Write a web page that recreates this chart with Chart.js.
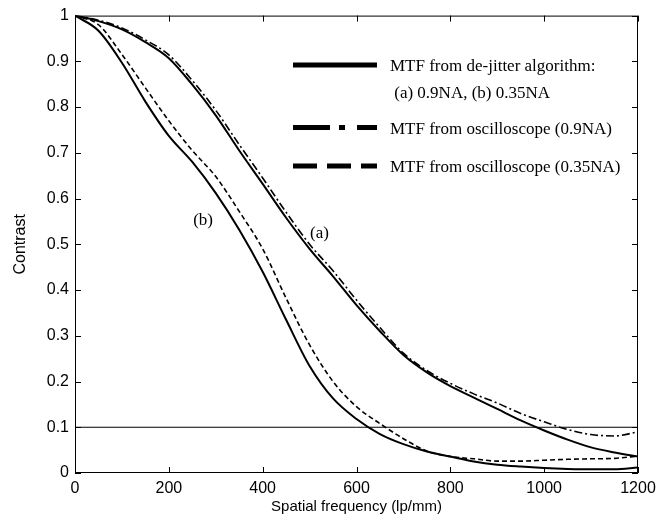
<!DOCTYPE html>
<html>
<head>
<meta charset="utf-8">
<script src="https://cdn.jsdelivr.net/npm/chart.js@4/dist/chart.umd.min.js"></script>
<style>
    html, body { margin: 0; padding: 0; background: #fff; }
</style>
</head>
<body>
<canvas id="mtfChart" width="669" height="525"></canvas>
<script>
// Spatial frequency samples (lp/mm)
const freqs = [0, 50, 100, 150, 200, 250, 300, 350, 400, 450, 500, 550, 600,
               650, 700, 750, 800, 850, 900, 950, 1000, 1050, 1100, 1150, 1200];

// (a) 0.9NA
const dejitterA = [1.0, 0.988, 0.97, 0.942, 0.907, 0.849, 0.782, 0.705, 0.632, 0.558, 0.49, 0.43, 0.367,
                   0.31, 0.258, 0.22, 0.19, 0.165, 0.14, 0.115, 0.093, 0.073, 0.056, 0.045, 0.036];
const scopeA    = [1.0, 0.99, 0.973, 0.947, 0.914, 0.858, 0.793, 0.718, 0.645, 0.57, 0.5, 0.442, 0.378,
                   0.318, 0.262, 0.224, 0.196, 0.173, 0.153, 0.13, 0.112, 0.095, 0.084, 0.081, 0.09];

// (b) 0.35NA
const dejitterB = [1.0, 0.967, 0.897, 0.812, 0.737, 0.68, 0.612, 0.532, 0.44, 0.335, 0.234, 0.163, 0.118,
                   0.085, 0.063, 0.047, 0.036, 0.025, 0.018, 0.014, 0.011, 0.009, 0.008, 0.008, 0.012];
const scopeB    = [1.0, 0.98, 0.915, 0.842, 0.77, 0.705, 0.648, 0.572, 0.49, 0.382, 0.28, 0.2, 0.145,
                   0.108, 0.075, 0.048, 0.036, 0.031, 0.026, 0.026, 0.028, 0.03, 0.031, 0.032, 0.037];

// 10% contrast reference line
const refX = [0, 1200];
const refY = [0.1, 0.1];

// Curve labels: [text, x, y]
const curveLabels = [['(a)', 521, 0.524], ['(b)', 273, 0.553]];

const legendItems = [
    { lines: ['MTF from de-jitter algorithm:', ' (a) 0.9NA, (b) 0.35NA'], dash: [] },
    { lines: ['MTF from oscilloscope (0.9NA)'], dash: [37, 9, 6, 12] },
    { lines: ['MTF from oscilloscope (0.35NA)'], dash: [24, 10] }
];

const toPoints = (xs, ys) => xs.map((x, i) => ({ x: x, y: ys[i] }));

const SANS = "'Liberation Sans', Arial, sans-serif";
const SERIF = "'Liberation Serif', 'Times New Roman', serif";

// Frame, inward ticks, curve labels and legend
const decorPlugin = {
    id: 'decor',
    afterDraw(chart) {
        const ctx = chart.ctx;
        const a = chart.chartArea;
        const xs = chart.scales.x, ys = chart.scales.y;
        const tl = 6;
        ctx.save();
        ctx.strokeStyle = '#000';
        ctx.lineWidth = 1;
        ctx.strokeRect(a.left + 0.5, a.top + 0.5, a.right - a.left - 1, a.bottom - a.top - 1);
        ctx.beginPath();
        xs.ticks.forEach(t => {
            const px = Math.round(xs.getPixelForValue(t.value)) + 0.5;
            ctx.moveTo(px, a.bottom); ctx.lineTo(px, a.bottom - tl);
            ctx.moveTo(px, a.top); ctx.lineTo(px, a.top + tl);
        });
        ys.ticks.forEach(t => {
            const py = Math.round(ys.getPixelForValue(t.value)) + 0.5;
            ctx.moveTo(a.left, py); ctx.lineTo(a.left + tl, py);
            ctx.moveTo(a.right, py); ctx.lineTo(a.right - tl, py);
        });
        ctx.stroke();

        // curve labels
        ctx.fillStyle = '#000';
        ctx.font = '17px ' + SERIF;
        ctx.textAlign = 'center';
        ctx.textBaseline = 'middle';
        curveLabels.forEach(l => {
            ctx.fillText(l[0], xs.getPixelForValue(l[1]), ys.getPixelForValue(l[2]));
        });

        // legend
        const lx0 = a.left + 218, lx1 = a.left + 302, tx = a.left + 315;
        const rows = [65, 127.5, 166];
        ctx.textAlign = 'left';
        ctx.textBaseline = 'alphabetic';
        legendItems.forEach((item, i) => {
            ctx.beginPath();
            ctx.lineWidth = 5;
            ctx.setLineDash(item.dash);
            ctx.moveTo(lx0, rows[i]);
            ctx.lineTo(lx1, rows[i]);
            ctx.stroke();
            ctx.setLineDash([]);
            item.lines.forEach((txt, j) => {
                ctx.fillText(txt, tx, rows[i] + 6 + j * 27);
            });
        });
        ctx.restore();
    }
};

const ctx = document.getElementById('mtfChart').getContext('2d');
new Chart(ctx, {
    type: 'line',
    data: {
        datasets: [
            { data: toPoints(freqs, dejitterA), borderColor: '#000', borderWidth: 2 },
            { data: toPoints(freqs, scopeA), borderColor: '#000', borderWidth: 1.6, borderDash: [8, 3, 2, 3] },
            { data: toPoints(freqs, dejitterB), borderColor: '#000', borderWidth: 2 },
            { data: toPoints(freqs, scopeB), borderColor: '#000', borderWidth: 1.6, borderDash: [5, 3] },
            { data: toPoints(refX, refY), borderColor: '#000', borderWidth: 1, tension: 0 }
        ]
    },
    options: {
        responsive: false,
        animation: false,
        devicePixelRatio: 1,
        layout: { padding: { top: 15, right: 31, left: 0, bottom: 0 } },
        elements: {
            point: { radius: 0 },
            line: { cubicInterpolationMode: 'monotone', fill: false }
        },
        plugins: {
            legend: { display: false },
            tooltip: { enabled: false }
        },
        scales: {
            x: {
                type: 'linear',
                min: 0,
                max: 1200,
                afterFit: (s) => { s.height = 52; },
                grid: { display: false, drawTicks: false },
                border: { display: false },
                ticks: {
                    stepSize: 200, color: '#000', padding: 6,
                    font: { family: SANS, size: 16 },
                    callback: (v) => String(v)
                },
                title: {
                    display: true,
                    text: 'Spatial frequency (lp/mm)',
                    color: '#000',
                    font: { family: SANS, size: 15 },
                    padding: { top: 0, bottom: 9 }
                }
            },
            y: {
                min: 0,
                max: 1,
                afterFit: (s) => { s.width = 75; },
                grid: { display: false, drawTicks: false },
                border: { display: false },
                ticks: {
                    stepSize: 0.1, color: '#000', padding: 6,
                    font: { family: SANS, size: 16 },
                    callback: (v) => String(Number(v.toFixed(1)))
                },
                title: {
                    display: true,
                    text: 'Contrast',
                    color: '#000',
                    font: { family: SANS, size: 16 },
                    padding: { top: 11, bottom: 0 }
                }
            }
        }
    },
    plugins: [decorPlugin]
});
</script>
</body>
</html>
